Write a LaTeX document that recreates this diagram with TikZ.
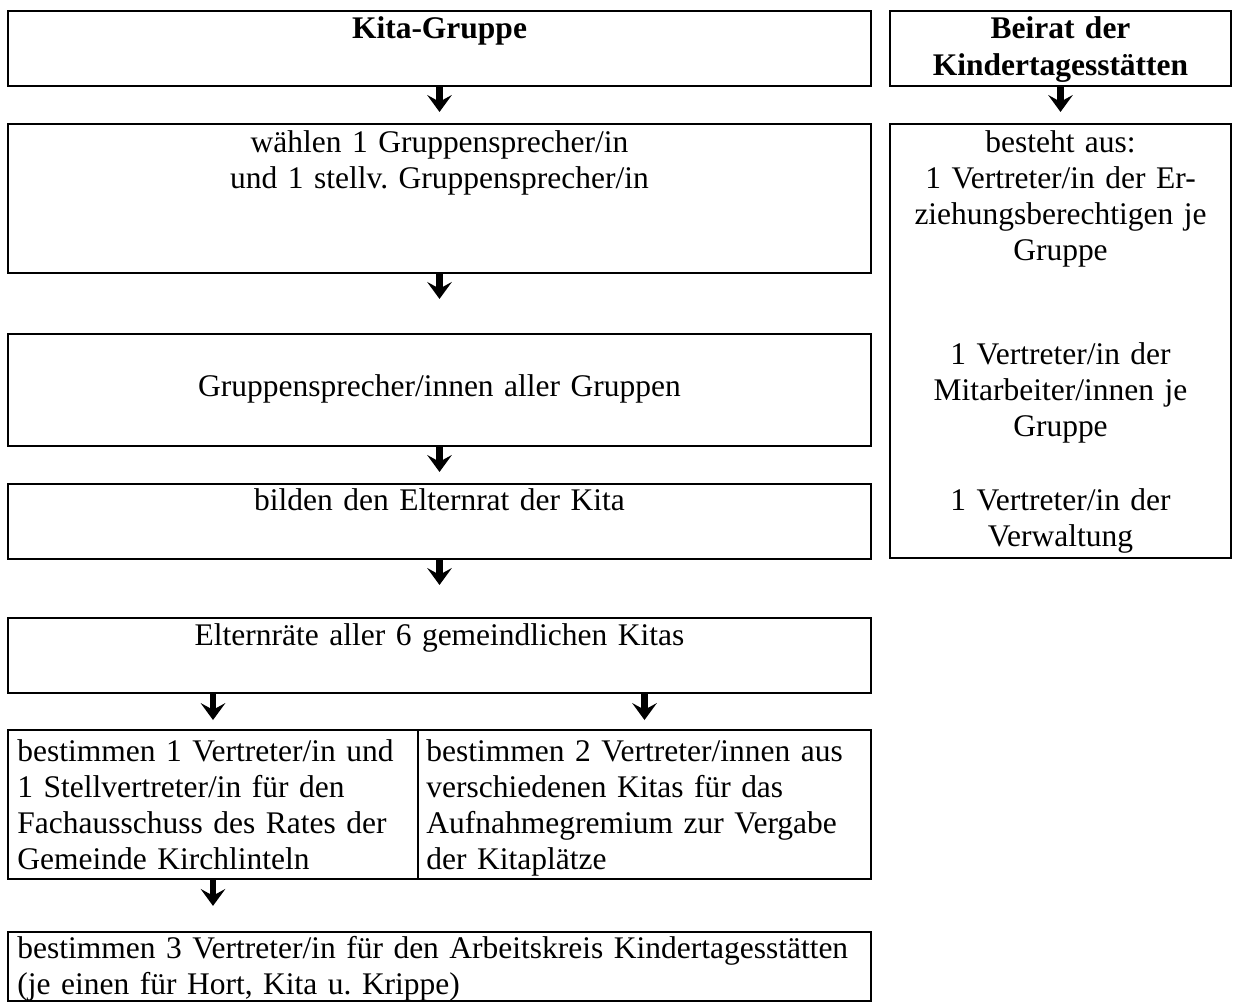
\documentclass[tikz,border=0pt]{standalone}
\usepackage{fontspec}
\setmainfont{Liberation Serif}
\usetikzlibrary{arrows.meta,positioning,fit,calc}
\frenchspacing

\begin{document}
\begin{tikzpicture}[
    x=0.390625pt, y=-0.390625pt,
    box/.style={rectangle, draw, line width=0.8pt, inner sep=0pt},
    txt/.style={text width=320pt, align=center, anchor=base, inner sep=0pt, font=\fontsize{12.3}{14}\selectfont},
    head/.style={txt, font=\fontsize{12.3}{14.45}\selectfont\bfseries},
    lefttxt/.style={txt, align=left, anchor=base west},
    line/.style={draw, line width=2.7pt, -{Stealth[length=6.6pt, width=9.6pt, inset=2.6pt]}, shorten >=4.3pt}
]
    \useasboundingbox (0,0) rectangle (1234,1004);

    % Kita side
    \node [box, fit={(8,11) (871,86)}] (kita) {};
    \node [head] (kita-t) at ($(kita.north)+(0,29)$) {Kita-Gruppe};

    \node [box, fit={(8,124) (871,273)}] (waehlen) {};
    \node [txt] (waehlen-t) at ($(waehlen.north)+(0,30)$) {wählen 1 Gruppensprecher/in\\ und 1 stellv. Gruppensprecher/in};

    \node [box, fit={(8,334) (871,446)}] (sprecher) {};
    \node [txt] (sprecher-t) at ($(sprecher.north)+(0,64)$) {Gruppensprecher/innen aller Gruppen};

    \node [box, fit={(8,484) (871,559)}] (elternrat) {};
    \node [txt] (elternrat-t) at ($(elternrat.north)+(0,28)$) {bilden den Elternrat der Kita};

    \node [box, fit={(8,618) (871,693)}] (kitas) {};
    \node [txt] (kitas-t) at ($(kitas.north)+(0,29)$) {Elternräte aller 6 gemeindlichen Kitas};

    % Split row
    \node [box, fit={(8,730) (418,879)}] (fachaus) {};
    \node [lefttxt, text width=158pt] (fachaus-t) at ($(fachaus.north west)+(10,33)$) {bestimmen 1 Vertreter/in und\\ 1 Stellvertreter/in für den\\ Fachausschuss des Rates der\\ Gemeinde Kirchlinteln};

    \node [box, fit={(418,730) (871,879)}] (aufnahme) {};
    \node [lefttxt, text width=180pt] (aufnahme-t) at ($(aufnahme.north west)+(9,33)$) {bestimmen 2 Vertreter/innen aus\\ verschiedenen Kitas für das\\ Aufnahmegremium zur Vergabe\\ der Kitaplätze};

    \node [box, fit={(8,932) (871,1001)}] (arbeitskreis) {};
    \node [lefttxt, text width=340pt] (arbeitskreis-t) at ($(arbeitskreis.north west)+(10,28)$) {bestimmen 3 Vertreter/in für den Arbeitskreis Kindertagesstätten\\ (je einen für Hort, Kita u. Krippe)};

    % Beirat side
    \node [box, fit={(890,11) (1231,86)}] (beirat) {};
    \node [head, text width=130pt] (beirat-t) at ($(beirat.north)+(0,29)$) {Beirat der\\ Kindertagesstätten};

    \node [box, fit={(890,124) (1231,558)}] (bestand) {};
    \node [txt, text width=130pt] (bestand-t) at ($(bestand.north)+(0,30)$) {besteht aus:\\ 1 Vertreter/in der Er-\\ ziehungsberechtigen je\\ Gruppe\\[26.8pt] 1 Vertreter/in der\\ Mitarbeiter/innen je\\ Gruppe\\[15pt] 1 Vertreter/in der\\ Verwaltung};

    % Flows
    \path [line] (kita) -- (waehlen);
    \path [line, shorten >=13.3pt] (waehlen) -- (sprecher);
    \path [line] (sprecher) -- (elternrat);
    \path [line, shorten >=12.5pt] (elternrat) -- (kitas);
    \path [line, shorten >=3.5pt] (kitas.south -| fachaus) -- (fachaus);
    \path [line, shorten >=3.5pt] (kitas.south -| aufnahme) -- (aufnahme);
    \path [line, shorten >=9.8pt] (fachaus) -- (fachaus |- arbeitskreis.north);
    \path [line] (beirat) -- (bestand);

\end{tikzpicture}
\end{document}
